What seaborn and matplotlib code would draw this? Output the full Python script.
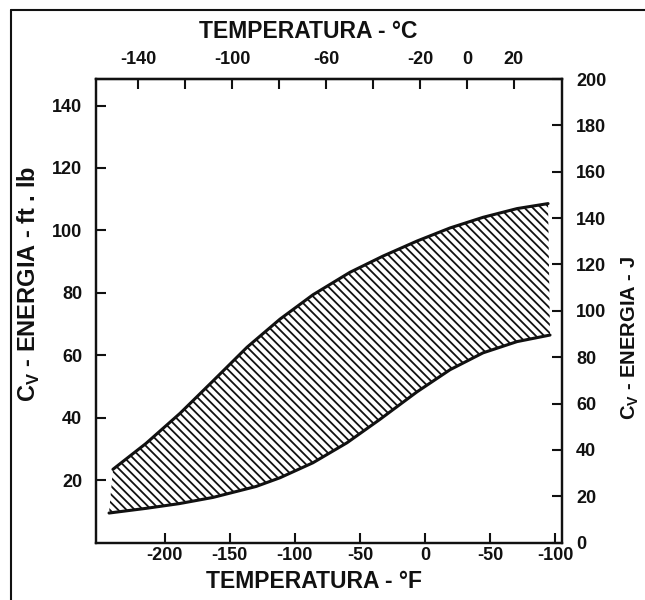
import numpy as np
import pandas as pd
import matplotlib
matplotlib.use("Agg")
import matplotlib.pyplot as plt
from matplotlib.lines import Line2D
import seaborn as sns

# Charpy V-notch impact energy band versus test temperature
upper_temp_f = [-239.6, -214.2, -188.2, -162.8, -136.7, -111.4, -86.1, -57.7,
                -32.3, -6.3, 19.1, 44.4, 70.5, 94.3]
upper_cv_ftlb = [23.5, 31.8, 41.4, 51.8, 62.6, 71.6, 79.4, 86.6,
                 91.8, 96.6, 100.8, 104.2, 107.0, 108.6]

lower_temp_f = [-242.6, -214.2, -188.9, -162.8, -129.8, -111.4, -86.1, -60.0,
                -34.7, -6.3, 19.1, 44.4, 70.5, 95.8]
lower_cv_ftlb = [9.5, 11.0, 12.5, 14.5, 18.0, 20.8, 25.6, 32.0,
                 39.5, 48.3, 55.4, 60.8, 64.4, 66.5]

f_ticks = [-200, -150, -100, -50, 0, 50, 100]
f_tick_labels = ["-200", "-150", "-100", "-50", "0", "-50", "-100"]
c_ticks = [-140, -120, -100, -80, -60, -40, -20, 0, 20]
c_tick_labels = ["-140", "", "-100", "", "-60", "", "-20", "0", "20"]
ftlb_ticks = [20, 40, 60, 80, 100, 120, 140]
joule_ticks = [0, 20, 40, 60, 80, 100, 120, 140, 160, 180, 200]

sns.set_theme(style="ticks")
plt.rcParams["font.family"] = ["Liberation Sans", "DejaVu Sans"]
plt.rcParams["font.weight"] = "bold"
plt.rcParams["hatch.linewidth"] = 1.3
plt.rcParams["axes.linewidth"] = 1.6

ink = "#111111"

fig = plt.figure(figsize=(6.45, 6.0), dpi=100)
fig.patch.set_facecolor("white")
ax = fig.add_axes([96 / 645, 1 - 542.7 / 600, (562 - 96) / 645, (542.7 - 79) / 600])

upper = pd.DataFrame({"temp": upper_temp_f, "cv": upper_cv_ftlb})
lower = pd.DataFrame({"temp": lower_temp_f, "cv": lower_cv_ftlb})

# hatched band between the two curves
band_x = np.concatenate([upper["temp"].values, lower["temp"].values[::-1]])
band_y = np.concatenate([upper["cv"].values, lower["cv"].values[::-1]])
ax.fill(band_x, band_y, facecolor="none", edgecolor=ink, hatch="\\\\\\\\", lw=0)

sns.lineplot(data=upper, x="temp", y="cv", ax=ax, color=ink, lw=2.2, sort=False)
sns.lineplot(data=lower, x="temp", y="cv", ax=ax, color=ink, lw=2.2, sort=False)

ax.set_xlim(-252.6, 105.0)
ax.set_ylim(0, 148.5)

tick_kw = dict(direction="in", length=7, width=1.5, colors=ink, labelsize=13)
ax.set_xticks(f_ticks)
ax.set_xticklabels(f_tick_labels, fontweight="bold")
ax.set_yticks(ftlb_ticks)
ax.set_yticklabels([str(v) for v in ftlb_ticks], fontweight="bold")
ax.tick_params(axis="x", pad=3, **tick_kw)
ax.tick_params(axis="y", pad=10, **tick_kw)

for side in ["left", "right", "top", "bottom"]:
    ax.spines[side].set_visible(True)
    ax.spines[side].set_color(ink)

ax.set_xlabel("TEMPERATURA - °F", fontsize=16.5, fontweight="bold", color=ink)
ax.xaxis.set_label_coords(0.468, -0.058)
ax.set_ylabel("C$_\\mathregular{V}$ - ENERGIA - ft . lb", fontsize=17, fontweight="bold",
              color=ink)
ax.yaxis.set_label_coords(-0.115, 0.558)

# Celsius scale along the top
top = ax.secondary_xaxis("top", functions=(lambda f: (f - 32) / 1.8, lambda c: c * 1.8 + 32))
top.set_xticks(c_ticks)
top.set_xticklabels(c_tick_labels, fontweight="bold")
top.tick_params(axis="x", pad=8, **tick_kw)
fig.text(308 / 645, 1 - 31 / 600, "TEMPERATURA - °C", fontsize=16.5, fontweight="bold",
         color=ink, ha="center", va="center")

# Joule scale on the right
ax2 = ax.twinx()
ax2.set_ylim(0, 200)
ax2.set_yticks(joule_ticks)
ax2.set_yticklabels([str(v) for v in joule_ticks], fontweight="bold")
ax2.tick_params(axis="y", pad=10, **tick_kw)
ax2.set_ylabel("C$_\\mathregular{V}$ - ENERGIA - J", fontsize=14.5, fontweight="bold",
               color=ink)
ax2.yaxis.set_label_coords(1.124, 0.441)
for side in ["left", "right", "top", "bottom"]:
    ax2.spines[side].set_color(ink)

# page frame
fx, fy = 11 / 645, 1 - 10 / 600
fig.add_artist(Line2D([fx, fx], [0, fy], transform=fig.transFigure, color=ink, lw=1.5))
fig.add_artist(Line2D([fx, 1], [fy, fy], transform=fig.transFigure, color=ink, lw=1.5))

fig.savefig("out.png", dpi=100, facecolor="white")
